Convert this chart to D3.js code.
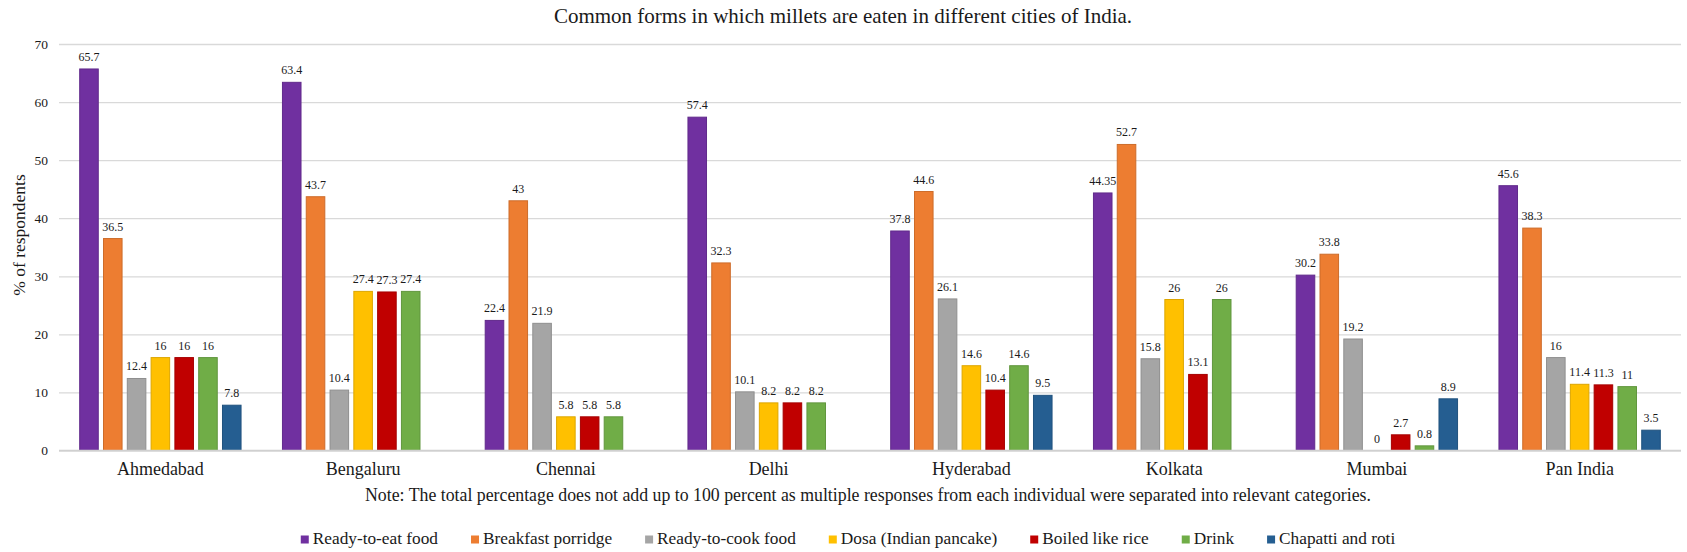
<!DOCTYPE html>
<html>
<head>
<meta charset="utf-8">
<script src="https://cdn.jsdelivr.net/npm/d3@7"></script>
<style>
  body { margin: 0; background: #fff; }
  svg { display: block; }
  svg text { font-family: "Liberation Serif", "Times New Roman", serif !important; fill: #1a1a1a; }
</style>
</head>
<body>
<svg id="chart" width="1687" height="552"></svg>
<script>
const cities = ["Ahmedabad", "Bengaluru", "Chennai", "Delhi", "Hyderabad", "Kolkata", "Mumbai", "Pan India"];
const seriesNames = ["Ready-to-eat food", "Breakfast porridge", "Ready-to-cook food", "Dosa (Indian pancake)", "Boiled like rice", "Drink", "Chapatti and roti"];
const readyToEat      = [65.7, 63.4, 22.4, 57.4, 37.8, 44.35, 30.2, 45.6];
const breakfastPorridge = [36.5, 43.7, 43, 32.3, 44.6, 52.7, 33.8, 38.3];
const readyToCook     = [12.4, 10.4, 21.9, 10.1, 26.1, 15.8, 19.2, 16];
const dosa            = [16, 27.4, 5.8, 8.2, 14.6, 26, 0, 11.4];
const boiledLikeRice  = [16, 27.3, 5.8, 8.2, 10.4, 13.1, 2.7, 11.3];
const drink           = [16, 27.4, 5.8, 8.2, 14.6, 26, 0.8, 11];
const chapattiRoti    = [7.8, null, null, null, 9.5, null, 8.9, 3.5];
const yTicks = [0, 10, 20, 30, 40, 50, 60, 70];
const colors = ["#7030A0", "#ED7D31", "#A5A5A5", "#FFC000", "#C00000", "#70AD47", "#255E91"];
const titleText = "Common forms in which millets are eaten in different cities of India.";
const noteText = "Note: The total percentage does not add up to 100 percent as multiple responses from each individual were separated into relevant categories.";
const yTitle = "% of respondents";

const seriesValues = [readyToEat, breakfastPorridge, readyToCook, dosa, boiledLikeRice, drink, chapattiRoti];

const SERIF = "'Liberation Serif', 'Times New Roman', serif";
const svg = d3.select("#chart");
const plotLeft = 59, plotRight = 1681, plotTop = 44, plotBottom = 450.5;

const x0 = d3.scaleBand().domain(cities).range([plotLeft, plotRight]).padding(0);
const x1 = d3.scaleBand().domain(seriesNames).range([0, x0.bandwidth()]).paddingInner(0.22).paddingOuter(0.87);
const y = d3.scaleLinear().domain([0, 70]).range([plotBottom, plotTop]);

// gridlines
const grid = svg.append("g").attr("class", "grid")
  .attr("transform", `translate(${plotLeft},0)`)
  .call(d3.axisLeft(y).tickValues(yTicks).tickSize(-(plotRight - plotLeft)).tickFormat(""));
grid.select(".domain").remove();
grid.selectAll("line").attr("stroke", "#D9D9D9").attr("stroke-width", 1.3);

// y tick labels
const yAxis = svg.append("g")
  .attr("transform", `translate(${plotLeft},0)`)
  .call(d3.axisLeft(y).tickValues(yTicks).tickSize(0).tickPadding(11));
yAxis.attr("font-family", SERIF);
yAxis.select(".domain").remove();
yAxis.selectAll("text").style("font-family", SERIF).style("font-size", "13.5px").attr("fill", "#1a1a1a");

// bars
const groups = svg.append("g").selectAll("g").data(cities).join("g")
  .attr("transform", d => `translate(${x0(d)},0)`);

groups.each(function(city, ci) {
  const g = d3.select(this);
  const data = seriesNames.map((s, si) => ({ s, si, v: seriesValues[si][ci] })).filter(d => d.v !== null);
  g.selectAll("rect").data(data).join("rect")
    .attr("x", d => x1(d.s))
    .attr("width", x1.bandwidth())
    .attr("y", d => y(d.v))
    .attr("height", d => y(0) - y(d.v))
    .attr("fill", d => colors[d.si])
    .attr("stroke", d => d3.color(colors[d.si]).darker(0.4))
    .attr("stroke-width", 1);
  g.selectAll("text.lbl").data(data).join("text")
    .attr("class", "lbl")
    .attr("x", d => x1(d.s) + x1.bandwidth() / 2)
    .attr("y", d => y(d.v) - 8)
    .attr("text-anchor", "middle")
    .style("font-family", SERIF)
    .style("font-size", "12px")
    .text(d => d.v);
});

// baseline
svg.append("line").attr("x1", plotLeft).attr("x2", plotRight).attr("y1", y(0)).attr("y2", y(0))
  .attr("stroke", "#D0D0D0").attr("stroke-width", 1.5);

// category labels
const xAxis = svg.append("g").attr("transform", `translate(0,${plotBottom})`)
  .call(d3.axisBottom(x0).tickSize(0).tickPadding(12));
xAxis.attr("font-family", SERIF);
xAxis.select(".domain").remove();
xAxis.selectAll("text").style("font-family", SERIF).style("font-size", "18px").attr("fill", "#1a1a1a");

// title
svg.append("text").attr("x", 843).attr("y", 23).attr("text-anchor", "middle")
  .style("font-family", SERIF).style("font-size", "21px").text(titleText);

// y title
svg.append("text").attr("transform", "translate(25,235) rotate(-90)").attr("text-anchor", "middle")
  .style("font-family", SERIF).style("font-size", "17.5px").text(yTitle);

// note
svg.append("text").attr("x", 868).attr("y", 501).attr("text-anchor", "middle")
  .style("font-family", SERIF).style("font-size", "17.8px").text(noteText);

// legend
const legend = svg.append("g");
let cx = 0;
seriesNames.forEach((s, i) => {
  const it = legend.append("g");
  it.append("rect").attr("x", 0).attr("y", -8.5).attr("width", 8).attr("height", 8).attr("fill", colors[i]);
  const t = it.append("text").attr("x", 12).attr("y", 0)
    .style("font-family", SERIF).style("font-size", "17.3px").text(s);
  const w = t.node().getComputedTextLength();
  it.attr("transform", `translate(${cx},544)`);
  cx += 12 + w + 33;
});
const totalW = cx - 33;
legend.attr("transform", `translate(${848 - totalW / 2},0)`);
</script>
</body>
</html>
